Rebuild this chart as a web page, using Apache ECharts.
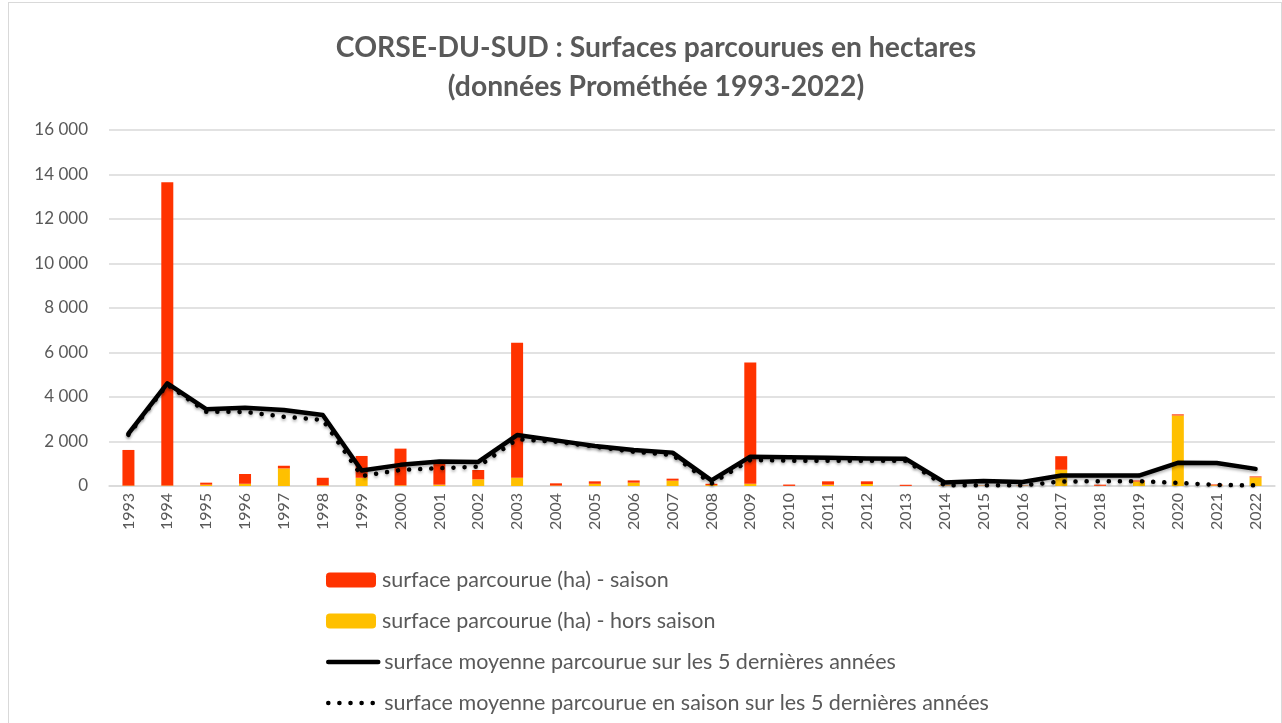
<!DOCTYPE html>
<html>
<head>
<meta charset="utf-8">
<script src="https://cdn.jsdelivr.net/npm/echarts@6/dist/echarts.min.js"></script>
<style>
  html, body { margin: 0; padding: 0; background: #fff; }
  #chart { width: 1282px; height: 723px; }
  #frame { position: absolute; left: 8px; top: 2px; width: 1272px; height: 730px; border: 1px solid #d9d9d9; pointer-events: none; }
</style>
</head>
<body>
<div id="chart"></div>
<div id="frame"></div>
<script>
// années 1993-2022
var years = [
  "1993", "1994", "1995", "1996", "1997", "1998", "1999", "2000", "2001", "2002",
  "2003", "2004", "2005", "2006", "2007", "2008", "2009", "2010", "2011", "2012",
  "2013", "2014", "2015", "2016", "2017", "2018", "2019", "2020", "2021", "2022",
];
// surface parcourue (ha) - saison
var saison = [
  1600, 13630, 90, 440, 120, 340, 980, 1650, 960, 420,
  6070, 100, 110, 100, 90, 60, 5450, 60, 150, 120,
  50, 10, 10, 10, 610, 50, 50, 50, 40, 40,
];
// surface parcourue (ha) - hors saison
var horsSaison = [
  20, 20, 60, 100, 790, 30, 370, 30, 60, 300,
  370, 20, 100, 150, 240, 40, 100, 5, 60, 90,
  5, 20, 10, 10, 730, 10, 200, 3170, 30, 390,
];
// moyenne sur les 5 dernières années
var moyenne5 = [
  2350, 4615, 3450, 3520, 3415, 3190, 700, 950, 1100, 1080,
  2290, 2050, 1800, 1620, 1500, 250, 1320, 1290, 1270, 1240,
  1220, 160, 220, 180, 470, 470, 470, 1040, 1030, 770,
];
// moyenne en saison sur les 5 dernières années
var moyenneSaison5 = [
  2300, 4560, 3340, 3330, 3115, 2970, 450, 720, 800, 870,
  2100, 1990, 1770, 1540, 1390, 110, 1170, 1140, 1140, 1140,
  1140, 30, 30, 30, 200, 215, 215, 140, 50, 30,
];
var legendNames = [
  "surface parcourue (ha) - saison",
  "surface parcourue (ha) - hors saison",
  "surface moyenne parcourue sur les 5 dernières années",
  "surface moyenne parcourue en saison sur les 5 dernières années",
];

var textColor = "#595959";
var fontFamily = "Lato, 'Noto Sans', sans-serif";

function fmt(v) {
  return String(v).replace(/\B(?=(\d{3})+(?!\d))/g, " ");
}

// one legend block per entry, stacked under the chart
var legends = legendNames.map(function (name, i) {
  var item = { name: name };
  if (i >= 2) {
    item.itemStyle = { opacity: 0 };
    item.lineStyle = { width: 4.5 };
  }
  return {
    orient: "vertical",
    left: 321,
    top: 564 + i * 41,
    itemWidth: 50,
    itemHeight: 15,
    data: [item],
    textStyle: { fontSize: 21.5, color: textColor, fontFamily: fontFamily, padding: [0, 0, 0, 1] },
  };
});

var myChart = echarts.init(document.getElementById("chart"));
var option = {
  animation: false,
  textStyle: { fontFamily: fontFamily },
  title: {
    text: "CORSE-DU-SUD : Surfaces parcourues en hectares\n(données Prométhée 1993-2022)",
    left: 651,
    top: 23,
    textAlign: "center",
    textStyle: {
      fontSize: 28.3,
      fontWeight: "bold",
      color: textColor,
      lineHeight: 39,
      fontFamily: fontFamily,
    },
  },
  legend: legends,
  grid: {
    left: 109,
    right: 7,
    top: 130,
    bottom: 237,
  },
  xAxis: {
    type: "category",
    data: years,
    axisLine: { lineStyle: { color: "#d9d9d9", width: 1.5 } },
    axisTick: { show: false },
    axisLabel: {
      interval: 0,
      rotate: 90,
      fontSize: 16,
      color: textColor,
      margin: 7,
    },
  },
  yAxis: {
    type: "value",
    min: 0,
    max: 16000,
    interval: 2000,
    axisLine: { show: false },
    axisTick: { show: false },
    splitLine: { lineStyle: { color: "#d9d9d9", width: 1.5 } },
    axisLabel: {
      fontSize: 17,
      color: textColor,
      margin: 21,
      formatter: fmt,
    },
  },
  series: [
    {
      name: legendNames[1],
      type: "bar",
      stack: "surface",
      barWidth: 12,
      data: horsSaison,
      itemStyle: { color: "#FFC000" },
    },
    {
      name: legendNames[0],
      type: "bar",
      stack: "surface",
      barWidth: 12,
      data: saison,
      itemStyle: { color: "#FF3300" },
    },
    {
      name: legendNames[3],
      type: "line",
      data: moyenneSaison5,
      symbol: "none",
      itemStyle: { color: "#000" },
      lineStyle: {
        color: "#000",
        width: 4.5,
        type: [0.1, 11],
        cap: "round",
        shadowColor: "rgba(0,0,0,0.3)",
        shadowBlur: 3,
        shadowOffsetY: 2,
      },
    },
    {
      name: legendNames[2],
      type: "line",
      data: moyenne5,
      symbol: "none",
      itemStyle: { color: "#000" },
      lineStyle: {
        color: "#000",
        width: 4.5,
        cap: "round",
        join: "round",
        shadowColor: "rgba(0,0,0,0.3)",
        shadowBlur: 3,
        shadowOffsetY: 2,
      },
    },
  ],
};
option && myChart.setOption(option);
</script>
</body>
</html>
